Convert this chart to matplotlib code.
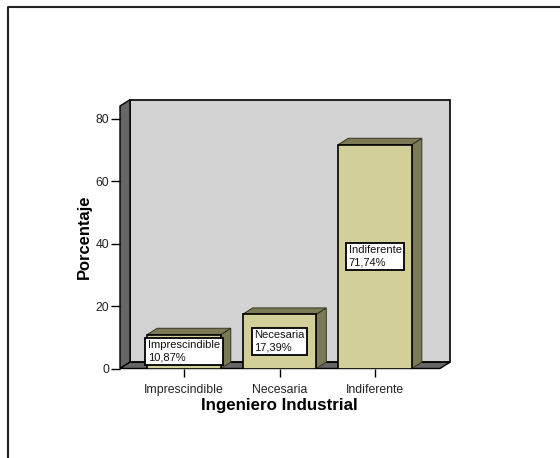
import matplotlib
matplotlib.use('Agg')
from matplotlib import pyplot as plt
from matplotlib.lines import Line2D
from matplotlib.patches import Polygon

categorias = ['Imprescindible', 'Necesaria', 'Indiferente']
porcentajes = [10.87, 17.39, 71.74]
etiquetas = ['10,87%', '17,39%', '71,74%']
yticks = [0, 20, 40, 60, 80]

W, H = 560, 458
plt.rcParams['font.family'] = ['Liberation Sans', 'DejaVu Sans']

fig = plt.figure(figsize=(W / 100, H / 100), dpi=100)
ax = fig.add_axes([120 / W, 1 - 368.5 / H, 320 / W, 262.5 / H])
ax.set_xlim(-0.67, 2.68)
ax.set_ylim(0, 84.1)
ax.patch.set_visible(False)

dx = 10 / 95.5
dy = 6.3 / 3.12
x0, x1 = ax.get_xlim()
y1 = ax.get_ylim()[1]
ancho = 0.77

oscuro = '#666666'
pared = '#d2d2d2'
frente = '#d3cf98'
lado = '#7b7a55'


def poly(puntos, color, z, lw=1.2, ec='black'):
    ax.add_patch(Polygon(puntos, closed=True, facecolor=color, zorder=z, edgecolor=ec, linewidth=lw, clip_on=False))


# paredes y suelo
poly([(x0 + dx, dy), (x1 + dx, dy), (x1 + dx, y1 + dy), (x0 + dx, y1 + dy)], pared, 1)
poly([(x0, 0), (x0 + dx, dy), (x0 + dx, y1 + dy), (x0, y1)], oscuro, 1.1, lw=1.0)
poly([(x0, 0), (x1, 0), (x1 + dx, dy), (x0 + dx, dy)], oscuro, 1.1, lw=1.0)

ax.bar(range(3), porcentajes, width=ancho, color=frente, edgecolor='black', linewidth=1.2, zorder=3)

for i, v in enumerate(porcentajes):
    a, b = i - ancho / 2, i + ancho / 2
    poly([(b, 0), (b + dx, dy), (b + dx, v + dy), (b, v)], lado, 2, lw=0.7, ec='#333322')
    poly([(a, v), (b, v), (b + dx, v + dy), (a + dx, v + dy)], lado, 2, lw=0.7, ec='#333322')
    ax.text(i, v / 2, categorias[i] + '\n' + etiquetas[i], fontsize=8.0, ha='center', va='center',
            ma='left', zorder=4, linespacing=1.3, color='#111111',
            bbox=dict(facecolor='white', edgecolor='black', linewidth=1.3, boxstyle='square,pad=0.22'))

for s in ax.spines.values():
    s.set_visible(False)

ax.set_xticks(range(3))
ax.set_xticklabels(categorias, fontsize=8.8, color='#222222')
ax.set_yticks(yticks)
ax.tick_params(axis='x', length=6, width=1, pad=5.5)
ax.tick_params(axis='y', length=6.5, width=1, pad=1.5, labelsize=8.8, labelcolor='#222222')

fig.text(84 / W, 1 - 237 / H, 'Porcentaje', rotation=90, fontsize=11.9, fontweight='bold', ha='center', va='center')
fig.text(279.5 / W, 1 - 405.5 / H, 'Ingeniero Industrial', fontsize=12.2, fontweight='bold', ha='center', va='center')

# marco exterior
fig.add_artist(Line2D([8 / W, 8 / W, 1], [0, 1 - 6.5 / H, 1 - 6.5 / H], color='#222222', linewidth=1.5))

fig.savefig('out.png', dpi=100)
